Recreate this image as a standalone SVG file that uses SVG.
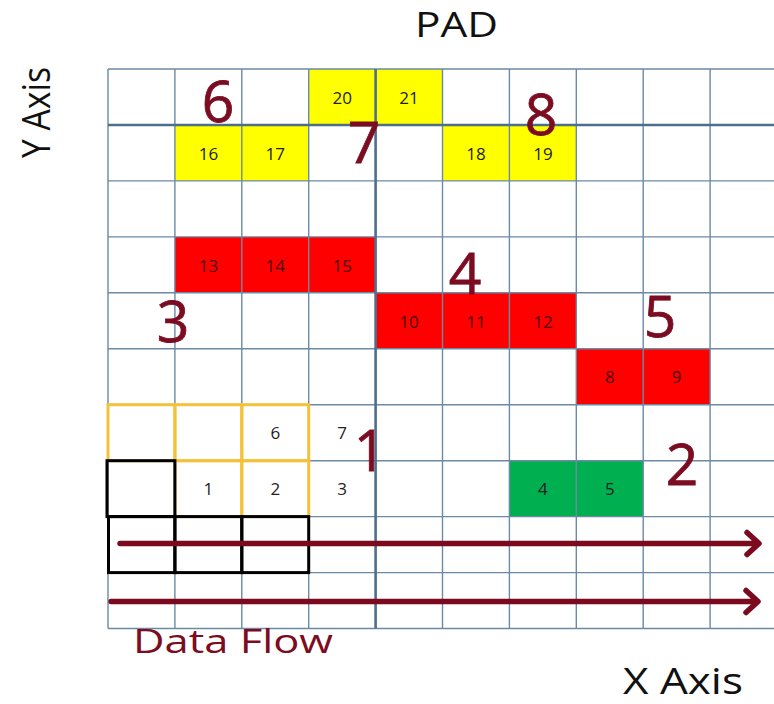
<svg xmlns="http://www.w3.org/2000/svg" width="774" height="704" viewBox="0 0 774 704">
  <style>
    .grid { stroke: #6a8aa6; stroke-width: 1.4; fill: none; }
    .axis { stroke: #4e6f8c; stroke-width: 2.6; fill: none; }
    .yel { fill: #ffff00; }
    .red { fill: #ff0000; }
    .grn { fill: #00b050; }
    .num { font-family: "Open Sans", "Liberation Sans", sans-serif; font-size: 17px; fill: #222; text-anchor: middle; }
    .num.dk { fill: #4a0808; }
    .big { font-family: "Open Sans", "Liberation Sans", sans-serif; font-size: 57px; fill: #7b0c22; text-anchor: middle; stroke: #7b0c22; stroke-width: 0.8; }
    .lbl { font-family: "Open Sans", "Liberation Sans", sans-serif; fill: #111; }
    .gold { fill: none; stroke: #f3c23a; stroke-width: 3; }
    .blk { fill: none; stroke: #000; stroke-width: 3; }
    .flow { stroke: #7b0a1e; stroke-width: 5.5; stroke-linecap: round; stroke-linejoin: round; fill: none; }
  </style>
  <rect width="774" height="704" fill="#fff"/>

  <!-- coloured cells -->
  <g id="cell-20"><rect class="yel" x="308.7" y="69" width="66.9" height="56"/><text class="num" x="342.2" y="103.5">20</text></g>
  <g id="cell-21"><rect class="yel" x="375.6" y="69" width="66.9" height="56"/><text class="num" x="409.1" y="103.5">21</text></g>
  <g id="cell-16"><rect class="yel" x="174.9" y="125" width="66.9" height="55.9"/><text class="num" x="208.4" y="160">16</text></g>
  <g id="cell-17"><rect class="yel" x="241.8" y="125" width="66.9" height="55.9"/><text class="num" x="275.3" y="160">17</text></g>
  <g id="cell-18"><rect class="yel" x="442.5" y="125" width="66.9" height="55.9"/><text class="num" x="476" y="160">18</text></g>
  <g id="cell-19"><rect class="yel" x="509.4" y="125" width="66.9" height="55.9"/><text class="num" x="542.9" y="160">19</text></g>

  <g id="cell-13"><rect class="red" x="174.9" y="236.9" width="66.9" height="55.9"/><text class="num dk" x="208.4" y="271.5">13</text></g>
  <g id="cell-14"><rect class="red" x="241.8" y="236.9" width="66.9" height="55.9"/><text class="num dk" x="275.3" y="271.5">14</text></g>
  <g id="cell-15"><rect class="red" x="308.7" y="236.9" width="66.9" height="55.9"/><text class="num dk" x="342.2" y="271.5">15</text></g>
  <g id="cell-10"><rect class="red" x="375.6" y="292.8" width="66.9" height="56"/><text class="num dk" x="409.1" y="327.5">10</text></g>
  <g id="cell-11"><rect class="red" x="442.5" y="292.8" width="66.9" height="56"/><text class="num dk" x="476" y="327.5">11</text></g>
  <g id="cell-12"><rect class="red" x="509.4" y="292.8" width="66.9" height="56"/><text class="num dk" x="542.9" y="327.5">12</text></g>
  <g id="cell-8"><rect class="red" x="576.3" y="348.8" width="66.9" height="55.9"/><text class="num dk" x="609.8" y="383">8</text></g>
  <g id="cell-9"><rect class="red" x="643.2" y="348.8" width="66.9" height="55.9"/><text class="num dk" x="676.7" y="383">9</text></g>

  <g id="cell-4"><rect class="grn" x="509.4" y="460.7" width="66.9" height="55.9"/><text class="num" x="542.9" y="495">4</text></g>
  <g id="cell-5"><rect class="grn" x="576.3" y="460.7" width="66.9" height="55.9"/><text class="num" x="609.8" y="495">5</text></g>

  <!-- grid -->
  <g id="grid">
    <path class="grid" d="M108,69V628.5 M174.9,69V628.5 M241.8,69V628.5 M308.7,69V628.5 M442.5,69V628.5 M509.4,69V628.5 M576.3,69V628.5 M643.2,69V628.5 M710.1,69V628.5"/>
    <path class="grid" d="M108,69H774 M108,180.9H774 M108,236.9H774 M108,292.8H774 M108,348.8H774 M108,404.7H774 M108,460.7H774 M108,516.6H774 M108,572.6H774 M108,628.5H774"/>
    <path class="axis" d="M375.6,69V628.5 M108,125H774"/>
  </g>

  <!-- plain cells -->
  <g id="cell-6"><text class="num" x="275.3" y="439">6</text></g>
  <g id="cell-7"><text class="num" x="342.2" y="439">7</text></g>
  <g id="cell-1"><text class="num" x="208.4" y="495">1</text></g>
  <g id="cell-2"><text class="num" x="275.3" y="495">2</text></g>
  <g id="cell-3"><text class="num" x="342.2" y="495">3</text></g>

  <!-- window outlines -->
  <g id="window-gold">
    <rect class="gold" x="108" y="404.7" width="66.9" height="56"/>
    <rect class="gold" x="174.9" y="404.7" width="66.9" height="56"/>
    <rect class="gold" x="241.8" y="404.7" width="66.9" height="56"/>
    <rect class="gold" x="174.9" y="460.7" width="66.9" height="55.9"/>
    <rect class="gold" x="241.8" y="460.7" width="66.9" height="55.9"/>
  </g>
  <g id="window-black">
    <rect class="blk" x="107" y="460.7" width="67.9" height="55.9"/>
    <rect class="blk" x="108.5" y="516.6" width="66.4" height="56"/>
    <rect class="blk" x="174.9" y="516.6" width="66.9" height="56"/>
    <rect class="blk" x="241.8" y="516.6" width="66.9" height="56"/>
  </g>

  <!-- group labels -->
  <g id="labels">
    <text class="big" x="218" y="122">6</text>
    <text class="big" x="364" y="163">7</text>
    <text class="big" x="541" y="135">8</text>
    <text class="big" x="173" y="342">3</text>
    <text class="big" x="465" y="294">4</text>
    <text class="big" x="660" y="337">5</text>
    <text class="big" x="370" y="471">1</text>
    <text class="big" x="682" y="485">2</text>
  </g>

  <!-- data flow arrows -->
  <g id="connectors">
    <path class="flow" d="M120,543.5H758 M747,532.5L759,543.5L747,554.5"/>
    <path class="flow" d="M111,601.5H757 M746,590.5L758,601.5L746,612.5"/>
  </g>

  <!-- axis titles -->
  <g id="titles">
    <text class="lbl" x="415" y="37" font-size="35" textLength="83" lengthAdjust="spacingAndGlyphs">PAD</text>
    <text class="lbl" x="623" y="694" font-size="37" textLength="120" lengthAdjust="spacingAndGlyphs">X Axis</text>
    <text class="lbl" transform="translate(50,158) rotate(-90)" x="0" y="0" font-size="38" textLength="91" lengthAdjust="spacingAndGlyphs">Y Axis</text>
    <text x="133" y="653" font-family="Open Sans, Liberation Sans, sans-serif" font-size="32" fill="#7b0c22" textLength="200" lengthAdjust="spacingAndGlyphs">Data Flow</text>
  </g>
</svg>
